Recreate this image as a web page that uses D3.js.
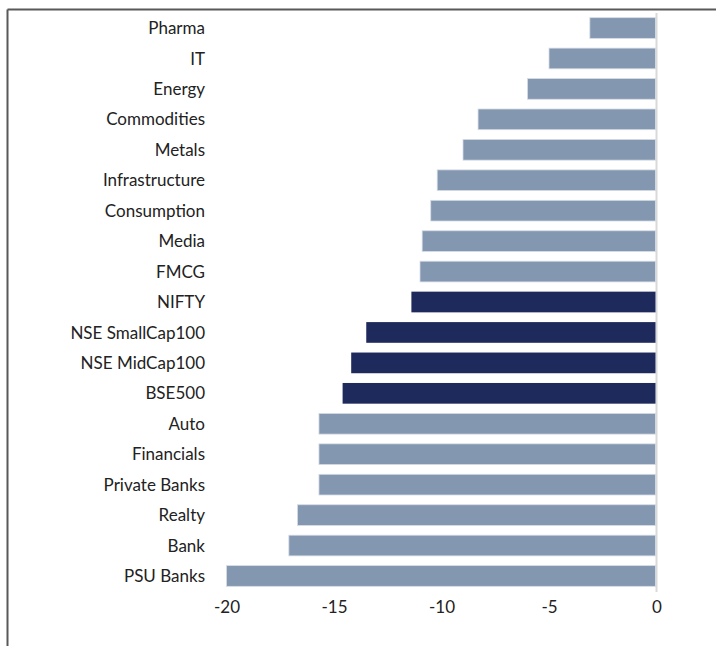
<!DOCTYPE html>
<html>
<head>
<meta charset="utf-8">
<script src="https://cdn.jsdelivr.net/npm/d3@7"></script>
<style>
  body { margin: 0; background: #fff; }
  svg text { font-family: Lato, "Open Sans", sans-serif; fill: #222; }
</style>
</head>
<body>
<div id="chart"></div>
<script>
// sector / index names, top to bottom
var categories = ["Pharma", "IT", "Energy", "Commodities", "Metals", "Infrastructure",
  "Consumption", "Media", "FMCG", "NIFTY", "NSE SmallCap100", "NSE MidCap100",
  "BSE500", "Auto", "Financials", "Private Banks", "Realty", "Bank", "PSU Banks"];

// % returns
var values = [-3.1, -5.0, -6.0, -8.3, -9.0, -10.2, -10.5, -10.9, -11.0, -11.4,
  -13.5, -14.2, -14.6, -15.7, -15.7, -15.7, -16.7, -17.1, -20.0];

// broad market indices get the dark colour
var indices = ["NIFTY", "NSE SmallCap100", "NSE MidCap100", "BSE500"];

var xTicks = [-20, -15, -10, -5, 0];

var width = 716, height = 646;

var svg = d3.select("#chart").append("svg")
    .attr("width", width)
    .attr("height", height);

// frame: top and left edges only
svg.append("line")
    .attr("x1", 7.5).attr("x2", width).attr("y1", 9.5).attr("y2", 9.5)
    .attr("stroke", "#595959").attr("stroke-width", 2);
svg.append("line")
    .attr("x1", 7.5).attr("x2", 7.5).attr("y1", 9.5).attr("y2", height)
    .attr("stroke", "#595959").attr("stroke-width", 2);

var x = d3.scaleLinear()
    .domain([-20, 0])
    .range([226.5, 656.5]);

var y = d3.scaleBand()
    .domain(categories)
    .range([12.8, 591.2])
    .paddingInner(0.32)
    .paddingOuter(0.16);

// zero line
svg.append("line")
    .attr("x1", x(0)).attr("x2", x(0))
    .attr("y1", 13).attr("y2", 592)
    .attr("stroke", "#d9d9d9").attr("stroke-width", 2);

svg.selectAll(".bar")
    .data(values)
  .enter().append("rect")
    .attr("class", "bar")
    .attr("x", function(d) { return x(d); })
    .attr("y", function(d, i) { return y(categories[i]); })
    .attr("width", function(d) { return x(0) - x(d) - 1; })
    .attr("height", y.bandwidth())
    .attr("fill", function(d, i) { return indices.indexOf(categories[i]) >= 0 ? "#1f2a5c" : "#8497b0"; })
    .attr("stroke", function(d, i) { return indices.indexOf(categories[i]) >= 0 ? "none" : "#d6dce5"; })
    .attr("stroke-width", 0.8);

// category labels
svg.selectAll(".cat")
    .data(categories)
  .enter().append("text")
    .attr("class", "cat")
    .attr("x", 205)
    .attr("y", function(d) { return y(d) + y.bandwidth() / 2; })
    .attr("dy", "0.36em")
    .attr("text-anchor", "end")
    .style("font-size", "17px")
    .text(function(d) { return d; });

// x axis labels (plain hyphen minus, like the original)
var xAxis = svg.append("g")
    .attr("transform", "translate(0,596)")
    .call(d3.axisBottom(x).tickValues(xTicks).tickSize(0).tickPadding(0)
      .tickFormat(function(d) { return String(d); }));
xAxis.select(".domain").remove();
xAxis.selectAll("text")
    .attr("dy", "0.36em")
    .attr("y", 11)
    .style("font-size", "17px")
    .style("font-family", "Lato, 'Open Sans', sans-serif")
    .attr("fill", "#222");
</script>
</body>
</html>
